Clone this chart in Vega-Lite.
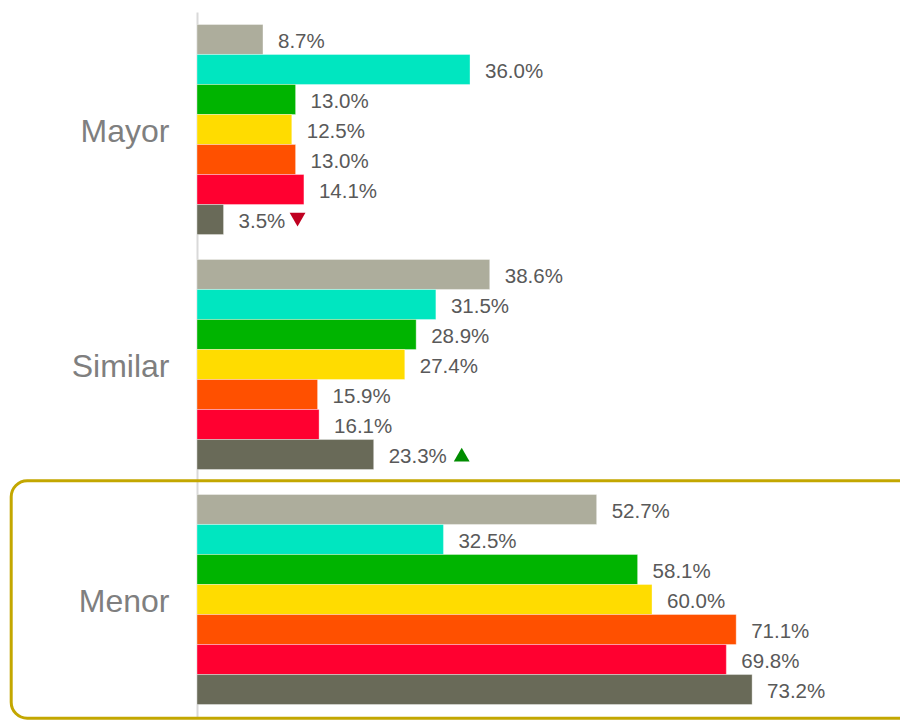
{
  "$schema": "https://vega.github.io/schema/vega-lite/v6.json",
  "autosize": "none",
  "width": 703,
  "height": 705,
  "padding": {"left": 197, "top": 12, "right": 0, "bottom": 3},
  "background": "white",
  "config": {"view": {"stroke": null}, "font": "Liberation Sans"},
  "data": {
    "values": [
      {"group": "Mayor", "series": "s1", "value": 0.087, "trend": ""},
      {"group": "Mayor", "series": "s2", "value": 0.360, "trend": ""},
      {"group": "Mayor", "series": "s3", "value": 0.130, "trend": ""},
      {"group": "Mayor", "series": "s4", "value": 0.125, "trend": ""},
      {"group": "Mayor", "series": "s5", "value": 0.130, "trend": ""},
      {"group": "Mayor", "series": "s6", "value": 0.141, "trend": ""},
      {"group": "Mayor", "series": "s7", "value": 0.035, "trend": "down"},
      {"group": "Similar", "series": "s1", "value": 0.386, "trend": ""},
      {"group": "Similar", "series": "s2", "value": 0.315, "trend": ""},
      {"group": "Similar", "series": "s3", "value": 0.289, "trend": ""},
      {"group": "Similar", "series": "s4", "value": 0.274, "trend": ""},
      {"group": "Similar", "series": "s5", "value": 0.159, "trend": ""},
      {"group": "Similar", "series": "s6", "value": 0.161, "trend": ""},
      {"group": "Similar", "series": "s7", "value": 0.233, "trend": "up"},
      {"group": "Menor", "series": "s1", "value": 0.527, "trend": ""},
      {"group": "Menor", "series": "s2", "value": 0.325, "trend": ""},
      {"group": "Menor", "series": "s3", "value": 0.581, "trend": ""},
      {"group": "Menor", "series": "s4", "value": 0.600, "trend": ""},
      {"group": "Menor", "series": "s5", "value": 0.711, "trend": ""},
      {"group": "Menor", "series": "s6", "value": 0.698, "trend": ""},
      {"group": "Menor", "series": "s7", "value": 0.732, "trend": ""}
    ]
  },
  "encoding": {
    "y": {
      "field": "group",
      "type": "nominal",
      "sort": ["Mayor", "Similar", "Menor"],
      "scale": {"paddingInner": 0.106, "paddingOuter": 0.053},
      "axis": {
        "title": null,
        "ticks": false,
        "labelFontSize": 32,
        "labelColor": "#7f7f7f",
        "labelPadding": 28,
        "labelOffset": 2,
        "labelFont": "Liberation Sans",
        "domainColor": "#d9d9d9",
        "domainWidth": 2
      }
    }
  },
  "layer": [
    {
      "transform": [{"filter": "datum.group === 'Menor' && datum.series === 's1'"}],
      "mark": {
        "type": "bar",
        "fill": "transparent",
        "stroke": "#C3A700",
        "strokeWidth": 3,
        "cornerRadius": 16,
        "height": {"band": 1.13}
      },
      "encoding": {
        "x": {"datum": -0.245, "type": "quantitative", "scale": {"domain": [0, 0.927], "nice": false, "zero": false}, "axis": null},
        "x2": {"datum": 1.2}
      }
    },
    {
      "mark": {"type": "bar", "stroke": "white", "strokeWidth": 0.6, "strokeOpacity": 0.6},
      "encoding": {
        "x": {"field": "value", "type": "quantitative", "scale": {"domain": [0, 0.927], "nice": false, "zero": false}, "axis": null},
        "yOffset": {"field": "series", "type": "nominal", "scale": {"paddingInner": 0}},
        "color": {
          "field": "series",
          "type": "nominal",
          "scale": {
            "domain": ["s1", "s2", "s3", "s4", "s5", "s6", "s7"],
            "range": ["#ADAD9C", "#00E6C0", "#00B400", "#FFDC00", "#FF5000", "#FF0030", "#696A58"]
          },
          "legend": null
        }
      }
    },
    {
      "mark": {"type": "text", "align": "left", "baseline": "middle", "dx": 15, "dy": 2.5, "fontSize": 20.5, "color": "#595959", "font": "Liberation Sans"},
      "encoding": {
        "x": {"field": "value", "type": "quantitative"},
        "yOffset": {"field": "series", "type": "nominal"},
        "text": {"field": "value", "type": "quantitative", "format": ".1%"}
      }
    },
    {
      "transform": [{"filter": "datum.trend === 'down'"}],
      "mark": {"type": "point", "shape": "triangle-down", "filled": true, "opacity": 1, "color": "#C00020", "size": 250, "xOffset": 74},
      "encoding": {
        "x": {"field": "value", "type": "quantitative"},
        "yOffset": {"field": "series", "type": "nominal"}
      }
    },
    {
      "transform": [{"filter": "datum.trend === 'up'"}],
      "mark": {"type": "point", "shape": "triangle-up", "filled": true, "opacity": 1, "color": "#008C00", "size": 250, "xOffset": 88},
      "encoding": {
        "x": {"field": "value", "type": "quantitative"},
        "yOffset": {"field": "series", "type": "nominal"}
      }
    }
  ]
}
